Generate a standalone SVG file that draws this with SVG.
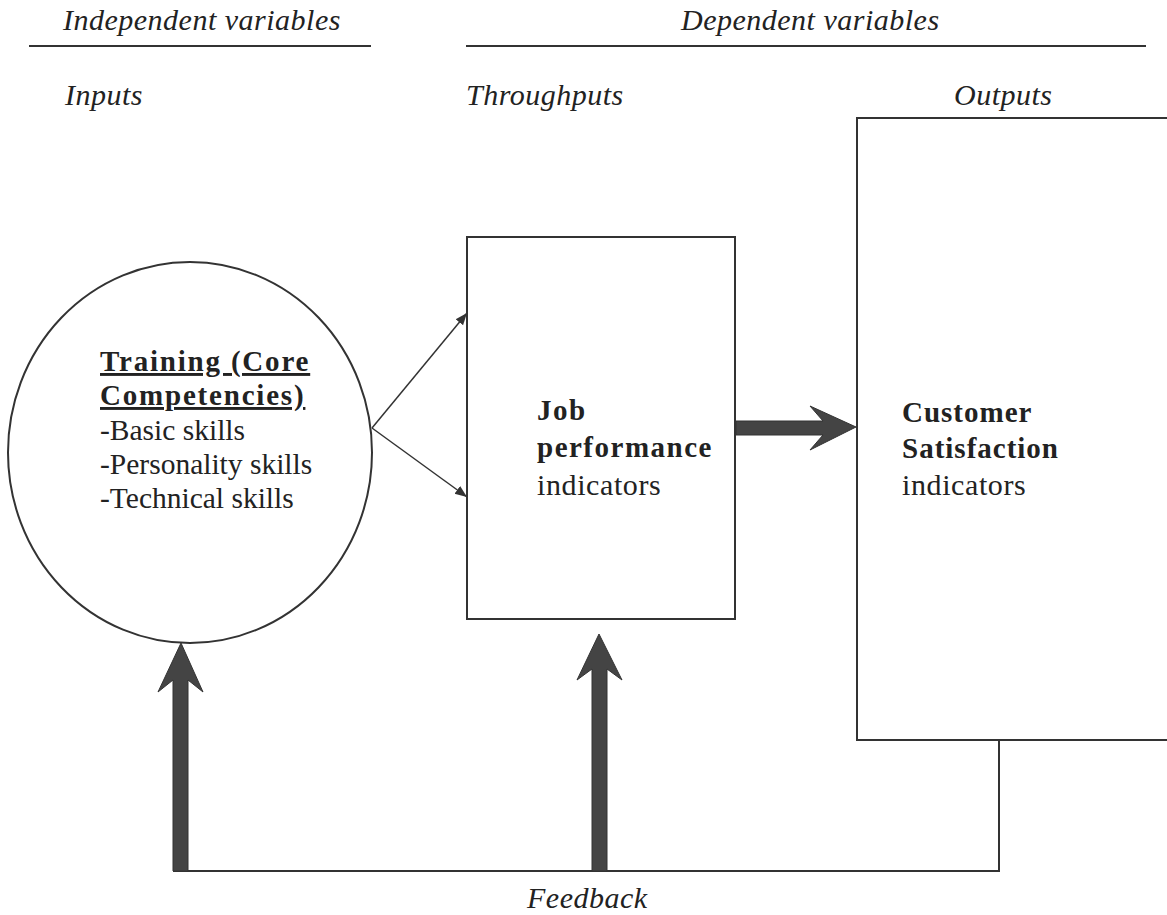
<svg xmlns="http://www.w3.org/2000/svg" width="1167" height="915" viewBox="0 0 1167 915">
<defs>
<style>
.hdr{font-family:"Liberation Serif",serif;font-style:italic;font-size:30px;fill:#222;letter-spacing:0.5px}
.b{font-family:"Liberation Serif",serif;font-weight:bold;font-size:29px;fill:#222;letter-spacing:1px}
.bc{font-family:"Liberation Serif",serif;font-weight:bold;font-size:29px;fill:#222;letter-spacing:1.8px}
.r{font-family:"Liberation Serif",serif;font-size:29.5px;fill:#222}
.r2{font-family:"Liberation Serif",serif;font-size:30px;fill:#222;letter-spacing:0.6px}
.ln{stroke:#333;stroke-width:2;fill:none}
.thick{fill:#444;stroke:#333;stroke-width:1}
</style>
<marker id="ah" viewBox="0 0 10 10" refX="10" refY="5" markerWidth="12" markerHeight="12" markerUnits="userSpaceOnUse" orient="auto">
<path d="M0,1 L10,5 L0,9 z" fill="#333"/>
</marker>
</defs>
<rect width="1167" height="915" fill="#fff"/>
<g id="headers">
<text class="hdr" x="63" y="30">Independent variables</text>
<line class="ln" x1="29" y1="46" x2="371" y2="46"/>
<text class="hdr" x="681" y="30">Dependent variables</text>
<line class="ln" x1="466" y1="46" x2="1146" y2="46"/>
<text class="hdr" x="65" y="105">Inputs</text>
<text class="hdr" x="466" y="105">Throughputs</text>
<text class="hdr" x="954" y="105">Outputs</text>
</g>
<g id="training">
<ellipse class="ln" cx="190" cy="452.5" rx="182" ry="190.5"/>
<text class="bc" x="100" y="371" text-decoration="underline">Training (Core</text>
<text class="bc" x="100" y="405" text-decoration="underline">Competencies)</text>
<text class="r" x="100" y="440">-Basic skills</text>
<text class="r" x="100" y="474">-Personality skills</text>
<text class="r" x="100" y="508">-Technical skills</text>
</g>
<g id="job">
<rect class="ln" x="467" y="237" width="268" height="382"/>
<text class="b" x="537" y="420" style="letter-spacing:1.5px">Job</text>
<text class="b" x="537" y="457" style="letter-spacing:1.5px">performance</text>
<text class="r2" x="537" y="495">indicators</text>
</g>
<g id="customer">
<path class="ln" d="M1167,118 H857 V740 H1167"/>
<text class="b" x="902" y="422">Customer</text>
<text class="b" x="902" y="458">Satisfaction</text>
<text class="r2" x="902" y="495">indicators</text>
</g>
<g id="connectors">
<line class="ln" style="stroke-width:1.5" x1="372" y1="428" x2="467" y2="313" marker-end="url(#ah)"/>
<line class="ln" style="stroke-width:1.5" x1="372" y1="428" x2="467" y2="497" marker-end="url(#ah)"/>
<path class="thick" d="M736,421 H823 L810,406 L856,427 L810,450 L823,435 H736 Z"/>
<path class="ln" d="M999,740 V871 H173"/>
<path class="thick" d="M173,871 V680 L158,692 L181,643 L203,692 L188,680 V871 Z"/>
<path class="thick" d="M592,871 V669 L577,680 L599,634 L622,680 L607,669 V871 Z"/>
<text class="hdr" x="527" y="908">Feedback</text>
</g>
</svg>
